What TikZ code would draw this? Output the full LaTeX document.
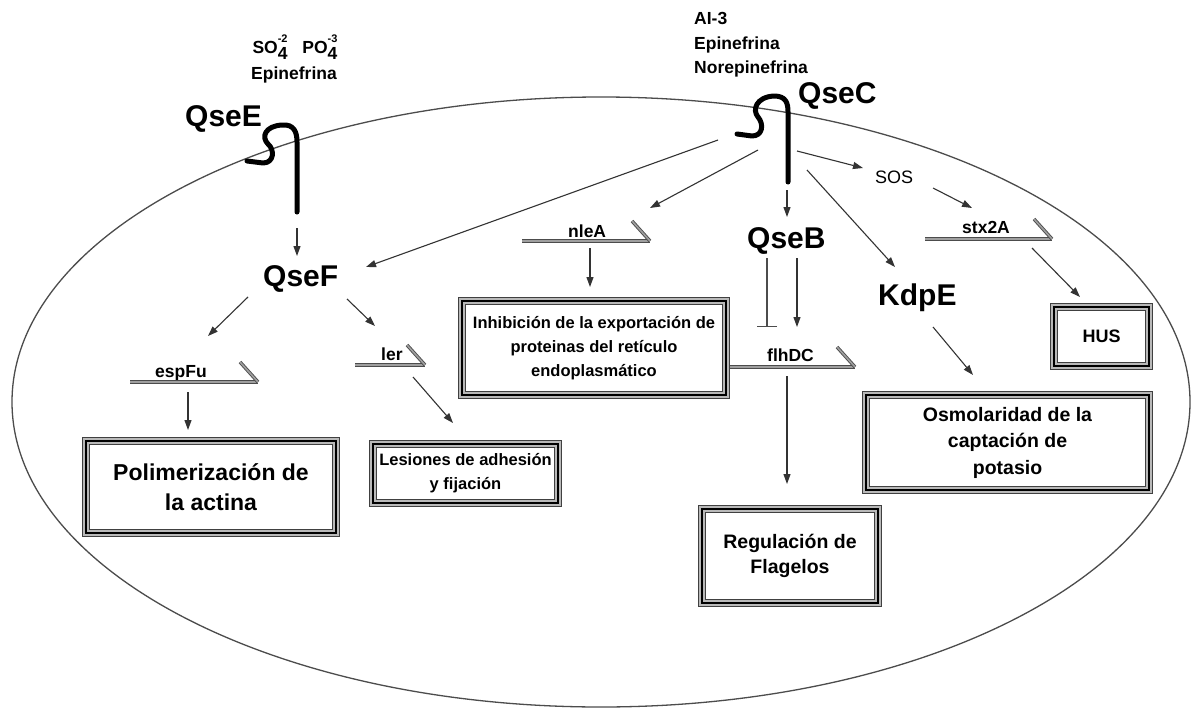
\documentclass[tikz,border=0pt]{standalone}
\usepackage{fontspec}
\setmainfont{Liberation Sans}
\usetikzlibrary{arrows.meta}
\tikzset{
  big/.style={font=\fontsize{30}{36}\selectfont\bfseries, inner sep=0pt},
  genelabel/.style={font=\fontsize{17.5}{20}\selectfont\bfseries, inner sep=0pt},
  signal/.style={font=\fontsize{17.5}{24.5}\selectfont\bfseries, inner sep=0pt, align=left},
  outcome/.style={draw=black, line width=2.4pt,
     preaction={draw=black!75, line width=8.5pt},
     preaction={draw=gray!55, line width=6.5pt},
     inner sep=0pt, align=center},
  arr/.style={draw=black!80, line width=1.1pt, -{Triangle[length=10pt,width=7pt]}},
  inh/.style={draw=black!70, line width=1.1pt, -{Bar[width=20pt,line width=1.1pt]}},
  geneline/.style={draw=black!70, line width=0.9pt, double=gray!75, double distance=1.6pt},
  rec/.style={draw=black, line width=5pt, line cap=round, line join=round},
  cell/.style={draw=black!70, line width=1.3pt},
}
\newcommand{\subsupx}[2]{\makebox[0pt][l]{\raisebox{-6pt}{#1}}\raisebox{10pt}{\fontsize{11}{11}\selectfont #2}}
\begin{document}
\begin{tikzpicture}[x=1pt,y=-1pt]
\fill[white] (0,0) rectangle (1191,717);
\useasboundingbox (0,0) rectangle (1191,717);

% cell
\draw[cell] (601,402) ellipse [x radius=589pt, y radius=305pt];

% signals
\node[signal, anchor=base] (sig1) at (299,53) {SO\subsupx{4}{-2}\hspace{10pt} PO\subsupx{4}{-3}\hspace{8pt}};
\node[signal, anchor=base] (sig2) at (294,80) {Epinefrina};
\node[signal, anchor=base west] (sig3) at (694,25) {AI-3};
\node[signal, anchor=base west] (sig4) at (694,49) {Epinefrina};
\node[signal, anchor=base west] (sig5) at (694,74) {Norepinefrina};

% receptors
\node[big, anchor=base west] (QseE) at (185,126) {QseE};
\node[big, anchor=base west] (QseC) at (798,103) {QseC};
\draw[rec] (247,161) -- (263,163) .. controls (274,163) and (275,150) .. (268,144)
   .. controls (261,137) and (265,126) .. (282,125)
   .. controls (294,124) and (297,132) .. (297,142) -- (297,212);
\draw[rec] (737,134) -- (752,136) .. controls (763,136) and (764,124) .. (758,117)
   .. controls (752,110) and (756,97) .. (774,96)
   .. controls (786,96) and (788,103) .. (788,112) -- (788,182);

% regulators
\node[big, anchor=base west] (QseF) at (263,286) {QseF};
\node[big, anchor=base west] (QseB) at (747,248) {QseB};
\node[big, anchor=base west] (KdpE) at (878,305) {KdpE};
\node[font=\fontsize{18}{20}\selectfont, inner sep=0pt, anchor=base west] (SOS) at (875,183) {SOS};

% genes
\node[genelabel, anchor=base west] (espFu) at (155,377) {espFu};
\node[genelabel, anchor=base west] (ler) at (381,360) {ler};
\node[genelabel, anchor=base west] (nleA) at (568,237) {nleA};
\node[genelabel, anchor=base west] (flhDC) at (767,361) {flhDC};
\node[genelabel, anchor=base west] (stx2A) at (962,233) {stx2A};

\coordinate (espFuA) at (130,382); \coordinate (espFuB) at (258,382);
\coordinate (lerA) at (355,365);   \coordinate (lerB) at (425,365);
\coordinate (nleAA) at (522,241);  \coordinate (nleAB) at (650,241);
\coordinate (flhA) at (727,367);   \coordinate (flhB) at (855,367);
\coordinate (stxA) at (925,239);   \coordinate (stxB) at (1052,239);
\foreach \a/\b in {espFuA/espFuB, lerA/lerB, nleAA/nleAB, flhA/flhB, stxA/stxB}{
  \draw[geneline] (\a) -- (\b);
  \draw[geneline] (\b) -- ++(-18,-20);
}

% outcomes
\node[outcome, minimum width=250pt, minimum height=92pt, font=\fontsize{23}{30}\selectfont\bfseries] (polim) at (211,487) {Polimerización de\\la actina};
\node[outcome, minimum width=185pt, minimum height=59pt, font=\fontsize{16.5}{24}\selectfont\bfseries] (lesion) at (465.5,473.5) {Lesiones de adhesión\\y fijación};
\node[outcome, minimum width=264pt, minimum height=94pt, font=\fontsize{16.5}{24}\selectfont\bfseries] (inhib) at (594,348) {Inhibición de la exportación de\\proteinas del retículo\\endoplasmático};
\node[outcome, minimum width=176pt, minimum height=94pt, font=\fontsize{19.5}{25.5}\selectfont\bfseries] (flag) at (790,556) {Regulación de\\Flagelos};
\node[outcome, minimum width=283pt, minimum height=95pt, font=\fontsize{19.5}{26.5}\selectfont\bfseries] (osmo) at (1007.5,442.5) {Osmolaridad de la\\captación de\\potasio};
\node[outcome, minimum width=95pt, minimum height=59pt, font=\fontsize{18}{20}\selectfont\bfseries] (hus) at (1101.5,336.5) {HUS};

% connector end points
\coordinate (eF1) at (297,228); \coordinate (eF2) at (297,256);
\coordinate (c1) at (718,140);  \coordinate (c1t) at (366,267);
\coordinate (c2) at (758,150);  \coordinate (c2t) at (650,208);
\coordinate (c3) at (787,190);  \coordinate (c3t) at (787,217);
\coordinate (c4) at (797,151);  \coordinate (c4t) at (863,168);
\coordinate (c5) at (807,170);  \coordinate (c5t) at (895,267);
\coordinate (s1) at (933,188);  \coordinate (s1t) at (972,208);
\coordinate (h1) at (1032,248); \coordinate (h1t) at (1080,297);
\coordinate (k1) at (933,327);  \coordinate (k1t) at (973,375);
\coordinate (b1) at (767,258);  \coordinate (b1t) at (767,327);
\coordinate (b2) at (797,258);  \coordinate (b2t) at (797,327);
\coordinate (f1) at (787,376);  \coordinate (f1t) at (787,484);
\coordinate (n1) at (590,248);  \coordinate (n1t) at (590,287);
\coordinate (q1) at (248,297);  \coordinate (q1t) at (208,336);
\coordinate (q2) at (347,299);  \coordinate (q2t) at (375,326);
\coordinate (e1) at (188,392);  \coordinate (e1t) at (188,430);
\coordinate (l1) at (413,377);  \coordinate (l1t) at (453,423);

\draw[arr] (eF1) -- (eF2);
\draw[arr] (c1) -- (c1t);
\draw[arr] (c2) -- (c2t);
\draw[arr] (c3) -- (c3t);
\draw[arr] (c4) -- (c4t);
\draw[arr] (c5) -- (c5t);
\draw[arr] (s1) -- (s1t);
\draw[arr] (h1) -- (h1t);
\draw[arr] (k1) -- (k1t);
\draw[inh] (b1) -- (b1t);
\draw[arr] (b2) -- (b2t);
\draw[arr] (f1) -- (f1t);
\draw[arr] (n1) -- (n1t);
\draw[arr] (q1) -- (q1t);
\draw[arr] (q2) -- (q2t);
\draw[arr] (e1) -- (e1t);
\draw[arr] (l1) -- (l1t);
\end{tikzpicture}
\end{document}
